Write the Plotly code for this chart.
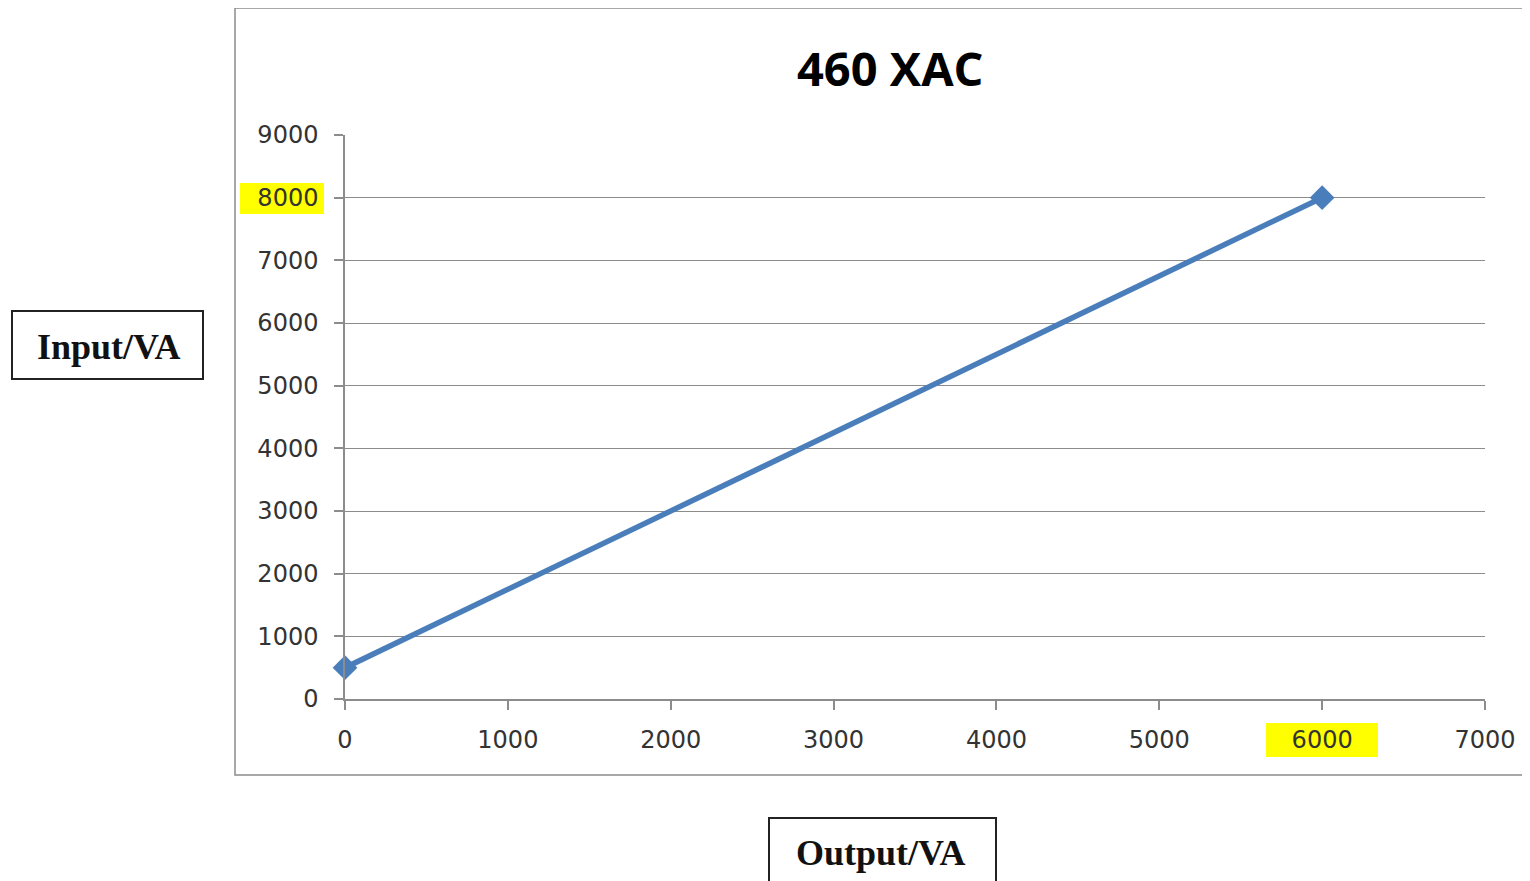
import plotly.graph_objects as go

# Data
output_va = [0, 6000]
input_va = [500, 8000]
x_ticks = [0, 1000, 2000, 3000, 4000, 5000, 6000, 7000]
y_ticks = [0, 1000, 2000, 3000, 4000, 5000, 6000, 7000, 8000, 9000]
title_text = "460 XAC"
x_label = "Output/VA"
y_label = "Input/VA"

OFF = 8  # page body margin
W, H = 1530 - OFF, 881 - OFF
L, R, T, B = 345 - OFF, 45, 135 - OFF, 182
pw, ph = W - L - R, H - T - B


def px(xp):
    return (xp - OFF - L) / pw


def py(yp):
    return (H - B - (yp - OFF)) / ph


fig = go.Figure()
fig.add_trace(go.Scatter(
    x=output_va, y=input_va, mode="lines+markers",
    line=dict(color="#4A7EBB", width=5.5),
    marker=dict(symbol="diamond", size=19, color="#4A7EBB"),
    showlegend=False, cliponaxis=False,
))

shapes = [
    dict(type="rect", xref="paper", yref="paper", x0=px(235), x1=px(1535), y0=py(8), y1=py(775),
         line=dict(color="#8C8C8C", width=1.5), fillcolor="rgba(0,0,0,0)", layer="below"),
    dict(type="rect", xref="paper", yref="paper", x0=px(240), x1=px(324), y0=py(214), y1=py(183),
         line=dict(width=0), fillcolor="#FFFF00", layer="below"),
    dict(type="rect", xref="paper", yref="paper", x0=px(1266), x1=px(1378), y0=py(757), y1=py(723),
         line=dict(width=0), fillcolor="#FFFF00", layer="below"),
    dict(type="rect", xref="paper", yref="paper", x0=px(12), x1=px(203), y0=py(379), y1=py(311),
         line=dict(color="#222222", width=2), fillcolor="white", layer="below"),
    dict(type="rect", xref="paper", yref="paper", x0=px(769), x1=px(996), y0=py(900), y1=py(818),
         line=dict(color="#222222", width=2), fillcolor="white", layer="below"),
]

annotations = [
    dict(text=f"<b>{title_text}</b>", xref="paper", yref="paper", x=px(890), y=py(68),
         showarrow=False, font=dict(family="Open Sans", size=47, color="#000000"),
         xanchor="center", yanchor="middle"),
    dict(text=f"<b>{y_label}</b>", xref="paper", yref="paper", x=px(108), y=py(347),
         showarrow=False, font=dict(family="Liberation Serif", size=36, color="#111111"),
         xanchor="center", yanchor="middle"),
    dict(text=f"<b>{x_label}</b>", xref="paper", yref="paper", x=px(880), y=py(853),
         showarrow=False, font=dict(family="Liberation Serif", size=36, color="#111111"),
         xanchor="center", yanchor="middle"),
]

fig.update_layout(
    width=W, height=H,
    margin=dict(l=L, r=R, t=T, b=B),
    paper_bgcolor="white", plot_bgcolor="white",
    shapes=shapes, annotations=annotations,
    xaxis=dict(range=[0, 7000], tickvals=x_ticks, ticktext=[str(v) for v in x_ticks],
               showgrid=False, zeroline=False, showline=True, linecolor="#8C8C8C", linewidth=1.5,
               ticks="outside", ticklen=9, tickcolor="#8C8C8C", tickwidth=1.5,
               tickfont=dict(family="DejaVu Sans", size=24, color="#333333"),
               ticklabelstandoff=9, fixedrange=True),
    yaxis=dict(range=[0, 9000], tickvals=y_ticks, ticktext=[str(v) for v in y_ticks],
               showgrid=True, gridcolor="#8C8C8C", gridwidth=1.2, zeroline=False,
               showline=True, linecolor="#8C8C8C", linewidth=1.5,
               ticks="outside", ticklen=9, tickcolor="#8C8C8C", tickwidth=1.5,
               tickfont=dict(family="DejaVu Sans", size=24, color="#333333"),
               ticklabelstandoff=11, fixedrange=True),
)

fig.write_html("out.html")
